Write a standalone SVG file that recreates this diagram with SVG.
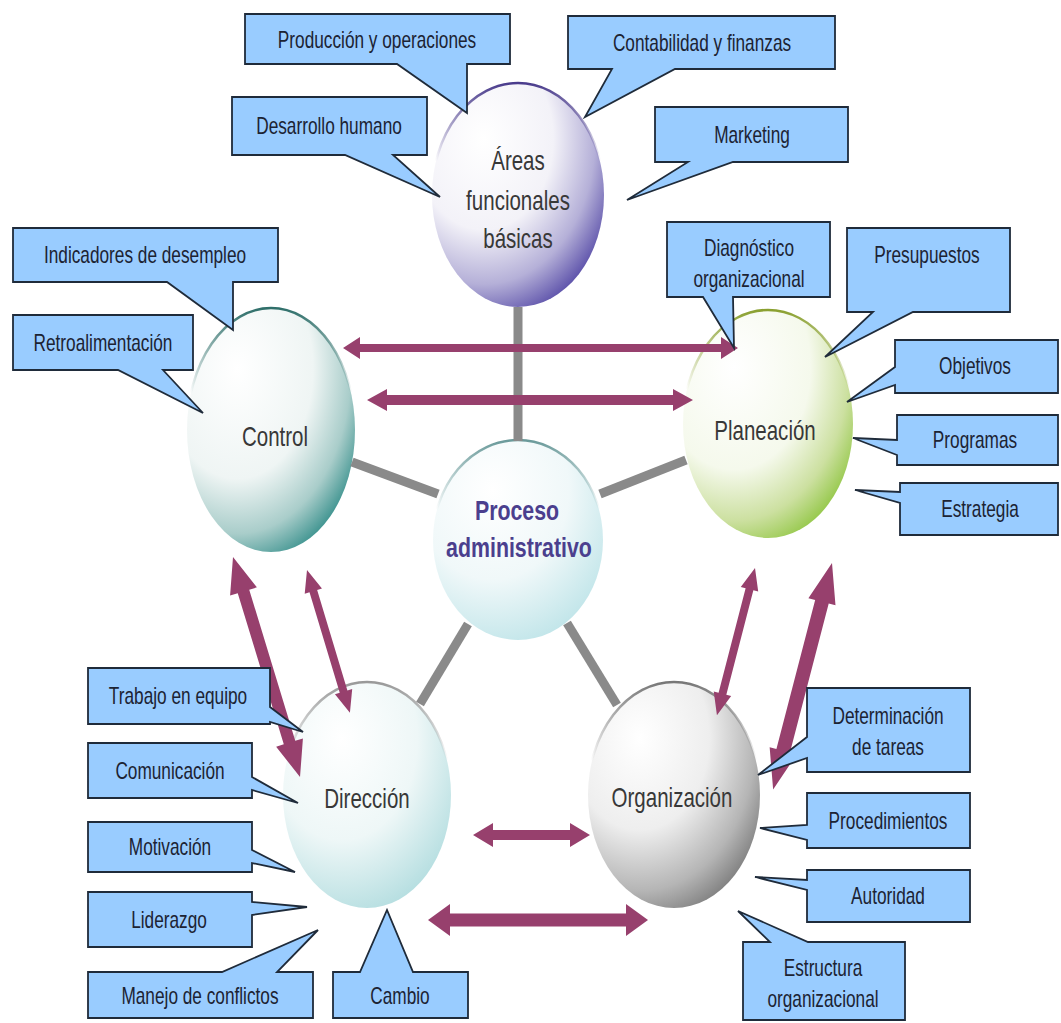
<svg xmlns="http://www.w3.org/2000/svg" width="1061" height="1023" viewBox="0 0 1061 1023">
<defs>
<style>
.co{fill:#99ccff;stroke:#1f2b3a;stroke-width:1.8;stroke-linejoin:miter}
.ct{font-family:"Liberation Sans",Arial,sans-serif;font-size:23px;fill:#1c2333;text-anchor:middle}
.nt{font-family:"Liberation Sans",Arial,sans-serif;font-size:27px;fill:#383838;text-anchor:middle}
.pt{font-family:"Liberation Sans",Arial,sans-serif;font-size:27px;font-weight:bold;fill:#4b3f8e;text-anchor:middle}
.gl{stroke:#8a8a8a;stroke-width:9;stroke-linecap:butt}
.ar{fill:#97406d}
.ring{stroke-width:2.5}
</style>
<radialGradient id="gA" cx="0.3" cy="0.25" r="0.9" fx="0.3" fy="0.25">
<stop offset="0" stop-color="#ffffff"/><stop offset="0.45" stop-color="#f3f2f8"/><stop offset="0.72" stop-color="#b5b0d8"/><stop offset="0.95" stop-color="#4f43a3"/></radialGradient>
<radialGradient id="gC" cx="0.3" cy="0.25" r="0.9" fx="0.3" fy="0.25">
<stop offset="0" stop-color="#ffffff"/><stop offset="0.5" stop-color="#eff5f4"/><stop offset="0.75" stop-color="#a9cdca"/><stop offset="0.95" stop-color="#2b8985"/></radialGradient>
<radialGradient id="gP" cx="0.3" cy="0.25" r="0.9" fx="0.3" fy="0.25">
<stop offset="0" stop-color="#ffffff"/><stop offset="0.5" stop-color="#f5f9ec"/><stop offset="0.75" stop-color="#cce0a0"/><stop offset="0.95" stop-color="#8cc43c"/></radialGradient>
<radialGradient id="gM" cx="0.35" cy="0.25" r="0.9" fx="0.35" fy="0.25">
<stop offset="0" stop-color="#ffffff"/><stop offset="0.5" stop-color="#f0f8f9"/><stop offset="1" stop-color="#b4e0e5"/></radialGradient>
<radialGradient id="gD" cx="0.35" cy="0.25" r="0.9" fx="0.35" fy="0.25">
<stop offset="0" stop-color="#ffffff"/><stop offset="0.5" stop-color="#eef7f7"/><stop offset="1" stop-color="#a5d7da"/></radialGradient>
<radialGradient id="gO" cx="0.3" cy="0.25" r="0.9" fx="0.3" fy="0.25">
<stop offset="0" stop-color="#ffffff"/><stop offset="0.45" stop-color="#eeeeee"/><stop offset="0.75" stop-color="#b5b5b5"/><stop offset="0.95" stop-color="#777777"/></radialGradient>
<linearGradient id="sA" x1="0" y1="0" x2="0" y2="1"><stop offset="0" stop-color="#4a3c8c"/><stop offset="0.35" stop-color="#4a3c8c" stop-opacity="0"/></linearGradient>
<linearGradient id="sC" x1="0" y1="0" x2="0" y2="1"><stop offset="0" stop-color="#2f6f6a"/><stop offset="0.35" stop-color="#2f6f6a" stop-opacity="0"/></linearGradient>
<linearGradient id="sP" x1="0" y1="0" x2="0" y2="1"><stop offset="0" stop-color="#8aa030"/><stop offset="0.35" stop-color="#8aa030" stop-opacity="0"/></linearGradient>
<linearGradient id="sM" x1="0" y1="0" x2="0" y2="1"><stop offset="0" stop-color="#6a9a9a"/><stop offset="0.35" stop-color="#6a9a9a" stop-opacity="0"/></linearGradient>
<linearGradient id="sD" x1="0" y1="0" x2="0" y2="1"><stop offset="0" stop-color="#999999"/><stop offset="0.35" stop-color="#999999" stop-opacity="0"/></linearGradient>
<linearGradient id="sO" x1="0" y1="0" x2="0" y2="1"><stop offset="0" stop-color="#777777"/><stop offset="0.35" stop-color="#777777" stop-opacity="0"/></linearGradient>
</defs>
<rect width="1061" height="1023" fill="#ffffff"/>

<g id="node-areas">
<ellipse cx="518" cy="195" rx="86" ry="112" fill="url(#gA)" stroke="url(#sA)" class="ring"/>
<text class="nt" transform="translate(518,170) scale(.76,1)">Áreas</text>
<text class="nt" transform="translate(518,210) scale(.76,1)">funcionales</text>
<text class="nt" transform="translate(518,248) scale(.76,1)">básicas</text>
</g>
<g id="node-control">
<ellipse cx="271" cy="430" rx="84" ry="122" fill="url(#gC)" stroke="url(#sC)" class="ring"/>
<text class="nt" transform="translate(275,446) scale(.76,1)">Control</text>
</g>
<g id="node-planeacion">
<ellipse cx="768" cy="424" rx="85" ry="114" fill="url(#gP)" stroke="url(#sP)" class="ring"/>
<text class="nt" transform="translate(765,440) scale(.76,1)">Planeación</text>
</g>
<g id="node-proceso">
<ellipse cx="518" cy="540" rx="85" ry="100" fill="url(#gM)" stroke="url(#sM)" class="ring"/>
<text class="pt" transform="translate(517,520) scale(.79,1)">Proceso</text>
<text class="pt" transform="translate(519,557) scale(.79,1)">administrativo</text>
</g>
<g id="node-direccion">
<ellipse cx="367" cy="795" rx="84" ry="113" fill="url(#gD)" stroke="url(#sD)" class="ring"/>
<text class="nt" transform="translate(367,808) scale(.76,1)">Dirección</text>
</g>
<g id="node-organizacion">
<ellipse cx="674" cy="795" rx="86" ry="113" fill="url(#gO)" stroke="url(#sO)" class="ring"/>
<text class="nt" transform="translate(672,807) scale(.76,1)">Organización</text>
</g>

<g id="connectors">
<line class="gl" x1="518" y1="307" x2="518" y2="441"/>
<line class="gl" x1="352" y1="462" x2="438" y2="494"/>
<line class="gl" x1="600" y1="494" x2="686" y2="460"/>
<line class="gl" x1="420" y1="704" x2="468" y2="624"/>
<line class="gl" x1="567" y1="623" x2="617" y2="705"/>
<polygon class="ar" transform="translate(343,348)" points="0,0 17,-11 17,-4 378,-4 378,-11 395,0 378,11 378,4 17,4 17,11"/>
<polygon class="ar" transform="translate(367,400)" points="0,0 20,-11 20,-5 306,-5 306,-11 326,0 306,11 306,5 20,5 20,11"/>
<polygon class="ar" transform="translate(473,835)" points="0,0 20,-12 20,-5 97,-5 97,-12 117,0 97,12 97,5 20,5 20,12"/>
<polygon class="ar" transform="translate(428,920)" points="0,0 22,-16 22,-6.5 198,-6.5 198,-16 220,0 198,16 198,6.5 22,6.5 22,16"/>
<polygon class="ar" transform="translate(233,557) rotate(73.06)" points="0,0 36,-14 36,-6 194,-6 194,-14 230,0 194,14 194,6 36,6 36,14"/>
<polygon class="ar" transform="translate(307,570) rotate(73.26)" points="0,0 22,-9 22,-4 127,-4 127,-9 149,0 127,9 127,4 22,4 22,9"/>
<polygon class="ar" transform="translate(755,568) rotate(104.5)" points="0,0 22,-9 22,-4 130,-4 130,-9 152,0 130,9 130,4 22,4 22,9"/>
<polygon class="ar" transform="translate(832,563) rotate(104.57)" points="0,0 40,-14 40,-7 194,-7 194,-14 234,0 194,14 194,7 40,7 40,14"/>
</g>

<g id="callout-produccion"><path class="co" d="M245,14 H510 V64 H467 L467,113 L397,64 H245 Z"/><text class="ct" transform="translate(377,48) scale(.75,1)">Producción y operaciones</text></g>
<g id="callout-contabilidad"><path class="co" d="M568,16 H835 V69 H675 L585,117 L612,69 H568 Z"/><text class="ct" transform="translate(702,51) scale(.75,1)">Contabilidad y finanzas</text></g>
<g id="callout-desarrollo"><path class="co" d="M232,97 H427 V155 H393 L440,197 L345,155 H232 Z"/><text class="ct" transform="translate(329,134) scale(.75,1)">Desarrollo humano</text></g>
<g id="callout-marketing"><path class="co" d="M655,107 H848 V162 H733 L627,200 L688,162 H655 Z"/><text class="ct" transform="translate(752,143) scale(.75,1)">Marketing</text></g>
<g id="callout-indicadores"><path class="co" d="M13,228 H278 V282 H233 L233,330 L167,282 H13 Z"/><text class="ct" transform="translate(145,263) scale(.75,1)">Indicadores de desempleo</text></g>
<g id="callout-retro"><path class="co" d="M13,315 H193 V370 H163 L203,413 L118,370 H13 Z"/><text class="ct" transform="translate(103,351) scale(.75,1)">Retroalimentación</text></g>
<g id="callout-diagnostico"><path class="co" d="M667,222 H830 V297 H733 L734,348 L703,297 H667 Z"/><text class="ct" transform="translate(749,256) scale(.75,1)"><tspan x="0" y="0">Diagnóstico</tspan><tspan x="0" y="31">organizacional</tspan></text></g>
<g id="callout-presupuestos"><path class="co" d="M847,228 H1010 V312 H913 L825,357 L873,312 H847 Z"/><text class="ct" transform="translate(927,263) scale(.75,1)">Presupuestos</text></g>
<g id="callout-objetivos"><path class="co" d="M895,340 H1058 V393 H895 V385 L847,402 L895,367 Z"/><text class="ct" transform="translate(975,374) scale(.75,1)">Objetivos</text></g>
<g id="callout-programas"><path class="co" d="M897,415 H1058 V465 H897 V455 L853,438 L897,440 Z"/><text class="ct" transform="translate(975,448) scale(.75,1)">Programas</text></g>
<g id="callout-estrategia"><path class="co" d="M900,483 H1058 V535 H900 V503 L855,490 L900,492 Z"/><text class="ct" transform="translate(980,517) scale(.75,1)">Estrategia</text></g>
<g id="callout-trabajo"><path class="co" d="M88,668 H270 V707 L303,732 L270,722 V724 H88 Z"/><text class="ct" transform="translate(178,704) scale(.75,1)">Trabajo en equipo</text></g>
<g id="callout-comunicacion"><path class="co" d="M88,743 H252 V777 L298,803 L252,790 V798 H88 Z"/><text class="ct" transform="translate(170,779) scale(.75,1)">Comunicación</text></g>
<g id="callout-motivacion"><path class="co" d="M88,822 H252 V850 L295,872 L252,863 V872 H88 Z"/><text class="ct" transform="translate(170,855) scale(.75,1)">Motivación</text></g>
<g id="callout-liderazgo"><path class="co" d="M88,892 H252 V902 L307,907 L252,915 V947 H88 Z"/><text class="ct" transform="translate(169,928) scale(.75,1)">Liderazgo</text></g>
<g id="callout-manejo"><path class="co" d="M88,972 H222 L318,930 L277,972 H313 V1018 H88 Z"/><text class="ct" transform="translate(200,1004) scale(.75,1)">Manejo de conflictos</text></g>
<g id="callout-cambio"><path class="co" d="M333,972 H360 L387,910 L413,972 H468 V1018 H333 Z"/><text class="ct" transform="translate(400,1004) scale(.75,1)">Cambio</text></g>
<g id="callout-determinacion"><path class="co" d="M807,688 H970 V772 H807 V758 L758,775 L807,737 Z"/><text class="ct" transform="translate(888,724) scale(.75,1)"><tspan x="0" y="0">Determinación</tspan><tspan x="0" y="31">de tareas</tspan></text></g>
<g id="callout-procedimientos"><path class="co" d="M807,793 H970 V848 H807 V840 L760,828 L807,825 Z"/><text class="ct" transform="translate(888,829) scale(.75,1)">Procedimientos</text></g>
<g id="callout-autoridad"><path class="co" d="M807,870 H970 V922 H807 V890 L755,877 L807,880 Z"/><text class="ct" transform="translate(888,904) scale(.75,1)">Autoridad</text></g>
<g id="callout-estructura"><path class="co" d="M743,942 H770 L738,911 L808,942 H905 V1020 H743 Z"/><text class="ct" transform="translate(823,976) scale(.75,1)"><tspan x="0" y="0">Estructura</tspan><tspan x="0" y="31">organizacional</tspan></text></g>
</svg>
